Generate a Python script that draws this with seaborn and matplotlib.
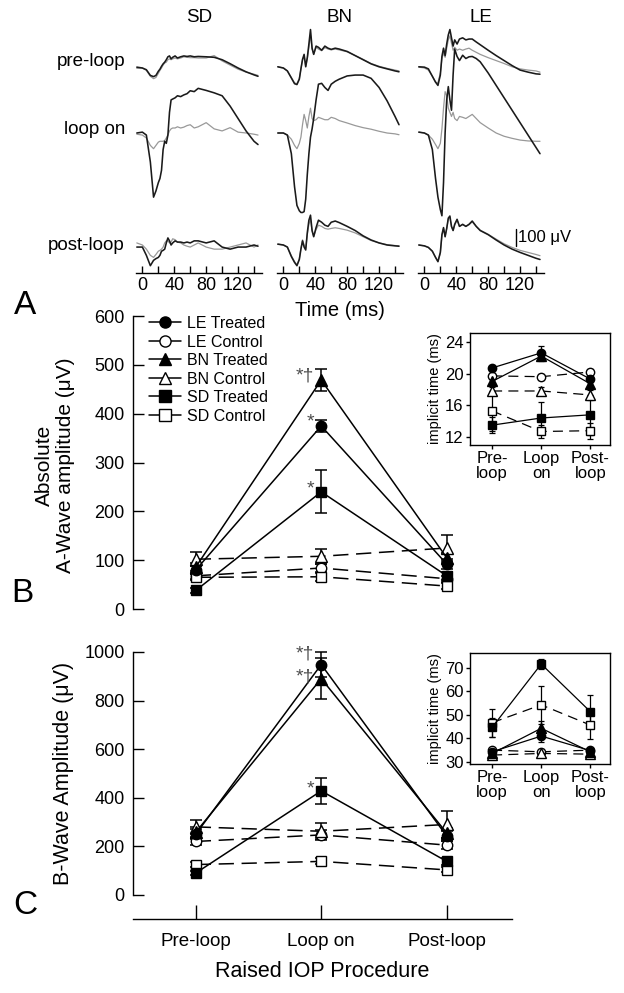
import numpy as np
import matplotlib
matplotlib.use("Agg")
import matplotlib.pyplot as plt
import seaborn as sns
from matplotlib.lines import Line2D

sns.set_theme(style="ticks")
plt.rcParams['font.family'] = ['Liberation Sans', 'DejaVu Sans']
plt.rcParams.update({'text.color': 'black', 'axes.labelcolor': 'black',
                     'xtick.color': 'black', 'ytick.color': 'black',
                     'axes.edgecolor': 'black', 'axes.linewidth': 1.0})

# ---------------- data: panel A (ERG traces, microvolts) ----------------
conditions_A = ["SD", "BN", "LE"]
rows_A = ["pre-loop", "loop on", "post-loop"]
time_ticks = [0, 40, 80, 120]
scale_uv = 100
t_ms = [-7, 0, 5, 10, 14, 17, 20, 22, 24, 26, 28, 30, 32, 34, 36, 38, 41, 44,
        48, 52, 56, 60, 65, 70, 80, 90, 100, 110, 120, 130, 140, 145]

sd_pre_treated = [5, 0, -10, -43, -50, -43, -19, -7, 10, 24, 34, 48, 65, 70, 53, 62, 70, 58,
                  65, 70, 67, 70, 65, 67, 65, 62, 48, 25, 0, -22, -40, -48]
sd_pre_control = [-2, 0, -14, -48, -62, -55, -31, -14, 0, 17, 29, 34, 48, 53, 48, 53, 58, 53,
                  58, 65, 62, 60, 60, 58, 58, 72, 41, 17, -7, -24, -36, -43]
sd_loop_treated = [0, 5, -12, -168, -372, -336, -288, -264, -216, -96, -48, -60, -12, 120, 192, 197, 204, 216,
                   211, 221, 228, 245, 240, 259, 247, 233, 216, 156, 84, 12, -48, -67]
sd_loop_control = [-7, -12, -29, -72, -91, -72, -53, -48, -48, -48, -43, -29, -12, 12, 24, 29, 29, 36,
                   29, 34, 43, 48, 29, 36, 60, 24, 12, 31, 5, 0, -7, -12]
sd_post_treated = [-12, -12, -60, -120, -89, -79, -72, -60, -36, -31, -24, 12, 41, 24, 0, 12, 24, 17,
                   17, 12, 17, 12, 24, 24, 12, 24, -12, -24, -12, -12, 0, -7]
sd_post_control = [12, 0, -24, -60, -72, -55, -36, -31, -24, -12, 12, 24, 24, 12, 17, 36, 31, 17,
                   12, 0, -7, -12, 0, 12, -12, -24, -24, -12, 0, 12, -12, 0]

bn_pre_treated = [7, 0, -17, -58, -91, -96, -65, -5, 50, 79, 7, 60, 139, 223, 115, 79, 127, 120,
                  103, 127, 115, 108, 115, 110, 96, 72, 48, 24, 7, -5, -17, -22]
bn_pre_control = [7, 0, -17, -55, -86, -91, -60, -5, 45, 70, 10, 55, 120, 190, 110, 80, 120, 110,
                  100, 118, 110, 105, 110, 105, 94, 72, 50, 26, 10, -2, -12, -17]
bn_loop_treated = [0, 0, -12, -120, -312, -420, -451, -461, -461, -456, -384, -240, -120, -24, 24, 84, 192, 283,
                   288, 264, 247, 283, 300, 312, 331, 336, 336, 317, 264, 187, 96, 48]
bn_loop_control = [0, 0, -12, -36, -72, -91, -60, -24, 48, 108, 72, 29, 96, 144, 84, 72, 77, 91,
                   84, 77, 77, 91, 84, 72, 58, 43, 31, 22, 10, 0, -5, -10]
bn_post_treated = [5, 0, -12, -67, -101, -120, -84, -24, 24, -12, -29, 72, 144, 173, 84, 48, 101, 144,
                   132, 115, 108, 132, 139, 130, 108, 84, 53, 29, 12, 0, -5, -7]
bn_post_control = [5, 0, -12, -62, -96, -115, -80, -20, 30, 0, -20, 60, 120, 150, 80, 50, 90, 115,
                   108, 96, 92, 96, 100, 96, 86, 70, 48, 26, 12, 2, -3, -5]

le_pre_treated = [7, 5, -5, -48, -82, -101, -41, 67, 115, 72, 139, 192, 223, 175, 127, 163, 139, 168,
                  175, 163, 168, 168, 151, 135, 103, 72, 43, 14, -12, -24, -34, -36]
le_pre_control = [5, 0, -12, -48, -82, -86, -29, 55, 86, 62, 115, 163, 187, 144, 103, 120, 103, 110,
                  103, 110, 115, 103, 91, 79, 60, 43, 26, 7, -5, -12, -17, -24]
le_loop_treated = [5, 0, -12, -96, -264, -372, -444, -480, -288, 0, 192, 269, 192, 132, 336, 487, 444, 420,
                   451, 432, 442, 444, 432, 413, 348, 276, 204, 132, 60, -12, -84, -120]
le_loop_control = [5, 0, -12, -36, -67, -91, -60, 24, 144, 240, 216, 144, 120, 96, 120, 84, 72, 96,
                   91, 84, 96, 108, 84, 60, 29, 0, -19, -31, -41, -46, -48, -48]
le_post_treated = [0, -5, -14, -36, -72, -96, -43, 60, 101, 48, 96, 156, 168, 108, 84, 120, 149, 108,
                   120, 108, 120, 139, 108, 84, 60, 29, 0, -24, -43, -60, -77, -84]
le_post_control = [0, -5, -14, -36, -72, -98, -48, 55, 96, 48, 96, 150, 160, 105, 84, 115, 144, 108,
                   118, 108, 118, 134, 108, 86, 62, 34, 7, -14, -31, -43, -55, -62]

# ---------------- data: panels B and C ----------------
phases = ["Pre-loop", "Loop on", "Post-loop"]
phases_inset = ["Pre-\nloop", "Loop\non", "Post-\nloop"]
groups = ["LE Treated", "LE Control", "BN Treated", "BN Control", "SD Treated", "SD Control"]

awave_le_treated = [80, 375, 92];   awave_le_treated_err = [8, 12, 10]
awave_le_control = [68, 84, 62];    awave_le_control_err = [6, 8, 6]
awave_bn_treated = [86, 469, 105];  awave_bn_treated_err = [8, 22, 10]
awave_bn_control = [102, 108, 125]; awave_bn_control_err = [14, 15, 26]
awave_sd_treated = [38, 240, 68];   awave_sd_treated_err = [6, 44, 8]
awave_sd_control = [65, 66, 47];    awave_sd_control_err = [6, 8, 6]

bwave_le_treated = [250, 948, 242]; bwave_le_treated_err = [20, 52, 20]
bwave_le_control = [220, 247, 205]; bwave_le_control_err = [15, 20, 15]
bwave_bn_treated = [258, 890, 255]; bwave_bn_treated_err = [20, 85, 20]
bwave_bn_control = [280, 262, 290]; bwave_bn_control_err = [28, 32, 55]
bwave_sd_treated = [90, 428, 138];  bwave_sd_treated_err = [10, 55, 15]
bwave_sd_control = [125, 138, 103]; bwave_sd_control_err = [12, 12, 10]

ita_le_treated = [20.7, 22.6, 19.3]; ita_le_treated_err = [0.3, 0.9, 0.4]
ita_le_control = [19.7, 19.6, 20.2]; ita_le_control_err = [0.4, 0.4, 0.4]
ita_bn_treated = [19.0, 22.2, 18.7]; ita_bn_treated_err = [0.5, 0.6, 0.5]
ita_bn_control = [17.8, 17.8, 17.3]; ita_bn_control_err = [0.5, 0.5, 0.6]
ita_sd_treated = [13.5, 14.4, 14.8]; ita_sd_treated_err = [1.0, 2.0, 2.5]
ita_sd_control = [15.3, 12.7, 12.8]; ita_sd_control_err = [2.5, 0.8, 1.0]

itb_le_treated = [34.3, 41.0, 34.8]; itb_le_treated_err = [1.0, 2.5, 1.0]
itb_le_control = [35.0, 34.3, 35.0]; itb_le_control_err = [1.0, 1.0, 1.0]
itb_bn_treated = [33.6, 44.3, 34.3]; itb_bn_treated_err = [1.0, 3.0, 1.0]
itb_bn_control = [32.9, 33.6, 33.3]; itb_bn_control_err = [1.0, 1.0, 1.0]
itb_sd_treated = [44.7, 71.7, 51.4]; itb_sd_treated_err = [4.0, 2.0, 7.0]
itb_sd_control = [46.7, 54.3, 45.7]; itb_sd_control_err = [6.0, 8.0, 6.0]

sig_awave = [("*\u2020", 486), ("*", 391), ("*", 254)]
sig_bwave = [("*\u2020", 1008), ("*\u2020", 914), ("*", 453)]

# ---------------- figure ----------------
W, H = 624, 993
fig = plt.figure(figsize=(W / 100, H / 100), dpi=100)
fig.patch.set_facecolor('white')


def box(x0, y0, x1, y1):
    return [x0 / W, 1 - y1 / H, (x1 - x0) / W, (y1 - y0) / H]


def ftxt(x, y, s, **kw):
    fig.text(x / W, 1 - y / H, s, **kw)


# ---- Panel A ----
traces = {
    "SD": [(sd_pre_control, sd_pre_treated), (sd_loop_control, sd_loop_treated), (sd_post_control, sd_post_treated)],
    "BN": [(bn_pre_control, bn_pre_treated), (bn_loop_control, bn_loop_treated), (bn_post_control, bn_post_treated)],
    "LE": [(le_pre_control, le_pre_treated), (le_loop_control, le_loop_treated), (le_post_control, le_post_treated)],
}
col_px = [(136, 262), (277, 403), (418, 544)]
A_top, A_axis = 15, 273
uv_per_px = 5.8
baseline_px = [68, 133, 245]
row_offsets = [(A_axis - b) * uv_per_px for b in baseline_px]
tick_all = list(range(0, 141, 20))
axA = []
for cond, (x0, x1) in zip(conditions_A, col_px):
    ax = fig.add_axes(box(x0, A_top, x1, A_axis))
    for (ctrl, trt), off in zip(traces[cond], row_offsets):
        sns.lineplot(x=t_ms, y=np.array(ctrl) + off, ax=ax, color='0.6', lw=0.9,
                     estimator=None, sort=False, legend=False)
        sns.lineplot(x=t_ms, y=np.array(trt) + off, ax=ax, color='0.1', lw=1.15,
                     estimator=None, sort=False, legend=False)
    ax.set_xlim(-8, 150)
    ax.set_ylim(0, (A_axis - A_top) * uv_per_px)
    for s in ['left', 'right', 'top']:
        ax.spines[s].set_visible(False)
    ax.set_yticks([])
    ax.set_xticks(tick_all)
    ax.set_xticklabels([str(t) if t in time_ticks else '' for t in tick_all])
    ax.tick_params(axis='x', direction='in', length=5, width=1, labelsize=13, pad=3)
    ax.set_xlabel('')
    ax.set_ylabel('')
    ax.patch.set_alpha(0)
    ftxt((x0 + x1) / 2, 18, cond, ha='center', va='center', fontsize=13.5)
    axA.append(ax)

for lab, yy in zip(rows_A, [62, 130, 245]):
    ftxt(125, yy, lab, ha='right', va='center', fontsize=13.5)

# scale bar in LE column
sb_y0 = (A_axis - 246) * uv_per_px
axA[2].plot([114.9, 114.9], [sb_y0, sb_y0 + scale_uv], color='black', lw=1.0, clip_on=False)
axA[2].text(117.5, sb_y0 + scale_uv / 2, f"{scale_uv} \u03bcV", ha='left', va='center', fontsize=12)

ftxt(340, 310, "Time (ms)", ha='center', va='center', fontsize=14.5)
ftxt(25, 305, "A", ha='center', va='center', fontsize=24)

# ---- Panels B and C ----
x_pos = [0, 1, 2]
markers = {"LE": 'o', "BN": '^', "SD": 's'}


def series_list(le_t, le_te, le_c, le_ce, bn_t, bn_te, bn_c, bn_ce, sd_t, sd_te, sd_c, sd_ce):
    return [("LE Treated", le_t, le_te), ("LE Control", le_c, le_ce),
            ("BN Treated", bn_t, bn_te), ("BN Control", bn_c, bn_ce),
            ("SD Treated", sd_t, sd_te), ("SD Control", sd_c, sd_ce)]


def draw_series(ax, series, ms, lw, cap, dash):
    for name, y, e in sorted(series, key=lambda s: "Treated" in s[0]):
        treated = "Treated" in name
        mk = markers[name[:2]]
        ax.errorbar(x_pos, y, yerr=e, fmt='none', ecolor='black', elinewidth=lw,
                    capsize=cap, capthick=lw, zorder=2)
        sns.lineplot(x=x_pos, y=y, ax=ax, color='black', lw=lw,
                     linestyle='-' if treated else (0, dash),
                     marker=mk, markersize=ms * (1.1 if mk == '^' else 1.0),
                     markerfacecolor='black' if treated else 'white',
                     markeredgecolor='black', markeredgewidth=1.0,
                     estimator=None, sort=False, legend=False, zorder=3)
    ax.set_xlabel('')
    ax.set_ylabel('')


awave = series_list(awave_le_treated, awave_le_treated_err, awave_le_control, awave_le_control_err,
                    awave_bn_treated, awave_bn_treated_err, awave_bn_control, awave_bn_control_err,
                    awave_sd_treated, awave_sd_treated_err, awave_sd_control, awave_sd_control_err)
bwave = series_list(bwave_le_treated, bwave_le_treated_err, bwave_le_control, bwave_le_control_err,
                    bwave_bn_treated, bwave_bn_treated_err, bwave_bn_control, bwave_bn_control_err,
                    bwave_sd_treated, bwave_sd_treated_err, bwave_sd_control, bwave_sd_control_err)
ita = series_list(ita_le_treated, ita_le_treated_err, ita_le_control, ita_le_control_err,
                  ita_bn_treated, ita_bn_treated_err, ita_bn_control, ita_bn_control_err,
                  ita_sd_treated, ita_sd_treated_err, ita_sd_control, ita_sd_control_err)
itb = series_list(itb_le_treated, itb_le_treated_err, itb_le_control, itb_le_control_err,
                  itb_bn_treated, itb_bn_treated_err, itb_bn_control, itb_bn_control_err,
                  itb_sd_treated, itb_sd_treated_err, itb_sd_control, itb_sd_control_err)

# Panel B
axB = fig.add_axes(box(133, 300, 512, 620))
draw_series(axB, awave, 7.5, 1.1, 4, (10, 5))
axB.set_xlim(-0.5, 2.52)
axB.set_ylim(-22.5, 633)
axB.set_yticks(range(0, 601, 100))
axB.spines['left'].set_bounds(0, 600)
for s in ['right', 'top', 'bottom']:
    axB.spines[s].set_visible(False)
axB.set_xticks([])
axB.tick_params(axis='y', direction='in', length=8, width=1, labelsize=13, pad=6)
axB.patch.set_alpha(0)
for s, yv in sig_awave:
    axB.annotate(s, xy=(1, yv), xytext=(-5, -3), textcoords='offset points',
                 ha='right', va='center', fontsize=14, color='0.3')
ftxt(55, 465, "Absolute\nA-Wave amplitude (\u03bcV)", rotation=90, ha='center', va='center',
     fontsize=15, multialignment='center', linespacing=1.15)
ftxt(22, 593, "B", ha='center', va='center', fontsize=24)

handles = []
for name in groups:
    treated = "Treated" in name
    handles.append(Line2D([0], [0], color='black', lw=1.1, marker=markers[name[:2]], markersize=8,
                          markerfacecolor='black' if treated else 'white', markeredgecolor='black'))
axB.legend(handles, groups, loc='upper left', bbox_to_anchor=(149 / W, 1 - 316 / H),
           bbox_transform=fig.transFigure, frameon=False, fontsize=11.5, handlelength=2.0,
           handletextpad=0.35, labelspacing=0.22, borderaxespad=0, borderpad=0)

# Panel C
axC = fig.add_axes(box(133, 640, 512, 919))
draw_series(axC, bwave, 7.5, 1.1, 4, (10, 5))
axC.set_xlim(-0.5, 2.52)
axC.set_ylim(-99, 1049)
axC.set_yticks(range(0, 1001, 200))
axC.spines['left'].set_bounds(0, 1000)
for s in ['right', 'top']:
    axC.spines[s].set_visible(False)
axC.set_xticks(x_pos)
axC.set_xticklabels(phases)
axC.tick_params(axis='y', direction='in', length=8, width=1, labelsize=13, pad=6)
axC.tick_params(axis='x', direction='in', length=10, width=1, labelsize=13.5, pad=10)
axC.set_xlabel("Raised IOP Procedure", fontsize=15.5, labelpad=8)
axC.patch.set_alpha(0)
for s, yv in sig_bwave:
    axC.annotate(s, xy=(1, yv), xytext=(-5, -3), textcoords='offset points',
                 ha='right', va='center', fontsize=14, color='0.3')
ftxt(64, 773, "B-Wave Amplitude (\u03bcV)", rotation=90, ha='center', va='center', fontsize=15.5)
ftxt(25, 905, "C", ha='center', va='center', fontsize=24)


# Insets
def style_inset(ax, ylim, yticks):
    ax.set_xlim(-0.45, 2.4)
    ax.set_ylim(*ylim)
    ax.set_yticks(yticks)
    ax.set_xticks(x_pos)
    ax.set_xticklabels(phases_inset, linespacing=0.95)
    ax.tick_params(axis='both', direction='out', length=3, width=1, labelsize=12, pad=1.5)
    for s in ax.spines.values():
        s.set_linewidth(1.0)
    ax.set_ylabel("implicit time (ms)", fontsize=10.5, labelpad=2)


axIB = fig.add_axes(box(470, 333, 610, 445))
draw_series(axIB, ita, 6, 0.9, 2.5, (8, 5))
style_inset(axIB, (11.0, 25.1), [12, 16, 20, 24])

axIC = fig.add_axes(box(470, 653, 610, 764))
draw_series(axIC, itb, 6, 0.9, 2.5, (8, 5))
style_inset(axIC, (29.1, 76.4), [30, 40, 50, 60, 70])

fig.savefig("out.png", dpi=100, facecolor='white')
